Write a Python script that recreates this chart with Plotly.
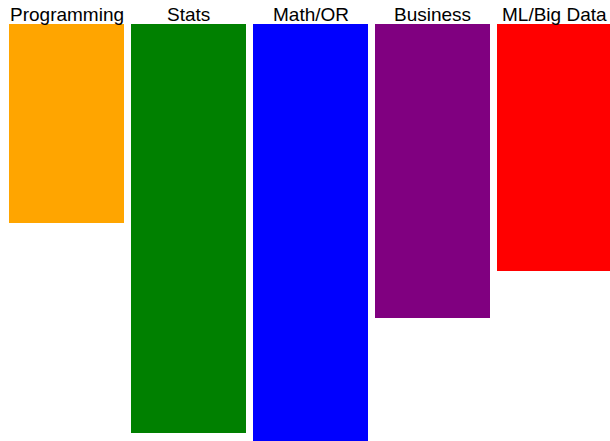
import plotly.graph_objects as go

# Skill areas and their bar lengths (hanging down from the top)
categories = ["Programming", "Stats", "Math/OR", "Business", "ML/Big Data"]
values = [199, 409, 425, 294, 247]
colors = ["orange", "green", "blue", "purple", "red"]

fig = go.Figure(
    go.Bar(
        x=list(range(len(categories))),
        y=values,
        marker=dict(color=colors, line=dict(width=0)),
        width=115 / 122,
        hoverinfo="skip",
    )
)

# Category names sit just above each bar
for i, name in enumerate(categories):
    fig.add_annotation(
        x=i, y=0, xref="x", yref="y",
        text=name, showarrow=False,
        yanchor="bottom", yshift=-3,
        font=dict(family="Liberation Sans, Arial, sans-serif", size=19, color="black"),
    )

fig.update_layout(
    width=610, height=441,
    margin=dict(l=0, r=0, t=24, b=0),
    paper_bgcolor="white", plot_bgcolor="white",
    showlegend=False,
    xaxis=dict(range=[-66.5 / 122, (610 - 66.5) / 122], visible=False, fixedrange=True),
    yaxis=dict(range=[417, 0], visible=False, fixedrange=True),
)

fig.write_html("out.html", config={"displayModeBar": False})
